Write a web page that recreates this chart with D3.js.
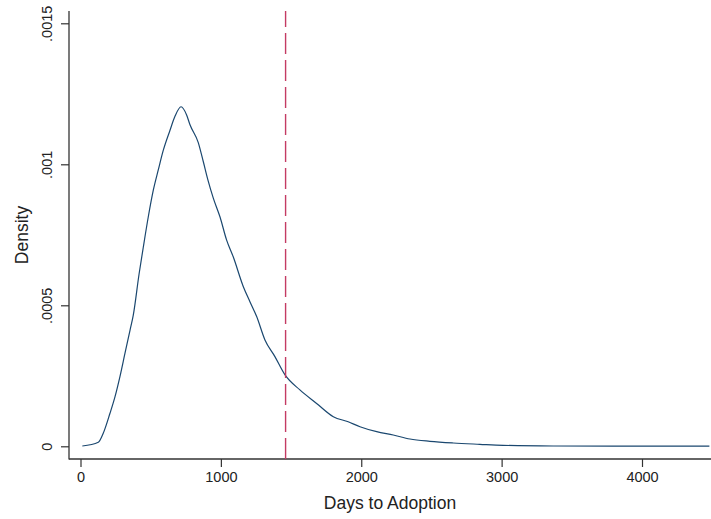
<!DOCTYPE html>
<html>
<head>
<meta charset="utf-8">
<script src="https://cdn.jsdelivr.net/npm/d3@7"></script>
<style>
  body { margin: 0; background: #fff; }
  text { font-family: "Liberation Sans", Arial, sans-serif; fill: #222; }
</style>
</head>
<body>
<svg width="711" height="519"></svg>
<script>
// density estimate (days, density)
var days = [13, 127, 162, 210, 246, 281, 317, 353, 376, 417, 447, 483, 519, 554, 590, 637, 673, 716,
    756, 780, 839, 875, 908, 946, 994, 1041, 1088, 1160, 1207, 1255, 1314, 1385, 1457, 1563, 1682,
    1801, 1907, 1991, 2110, 2228, 2347, 2489, 2655, 2845, 3011, 3368, 3800, 4480];
var density = [0.000001, 0.0000142, 0.0000461, 0.000117, 0.000176, 0.000247, 0.00033, 0.000412,
    0.000465, 0.00061, 0.000705, 0.000814, 0.000909, 0.00098, 0.00105, 0.00112, 0.00117, 0.001204,
    0.001175, 0.00114, 0.001077, 0.001009, 0.000944, 0.00088, 0.000813, 0.000731, 0.000672, 0.000566,
    0.000513, 0.00046, 0.000377, 0.000318, 0.000253, 0.0002, 0.000152, 0.000105, 0.000087, 0.0000695,
    0.0000518, 0.00004, 0.0000259, 0.0000177, 0.0000117, 0.0000071, 0.0000035, 0.000001, 0.0000005, 0.0000003];

var xTicks = [0, 1000, 2000, 3000, 4000];
var yTicks = [0, 0.0005, 0.001, 0.0015];
var yTickLabels = ["0", ".0005", ".001", ".0015"];
var cutoff = 1461; // 4 years

var svg = d3.select("svg");

var plotLeft = 69, plotRight = 711, plotTop = 11, plotBottom = 459;

var x = d3.scaleLinear().domain([0, 4000]).range([80.5, 642]);
var y = d3.scaleLinear().domain([0, 0.0015]).range([446.3, 23.3]);

var data = days.map(function(d, i) { return { x: d, y: density[i] }; });

// y axis
var yAxis = svg.append("g")
    .attr("transform", "translate(" + plotLeft + ",0)")
    .call(d3.axisLeft(y).tickValues(yTicks).tickSize(8)
        .tickFormat(function(d, i) { return yTickLabels[i]; }));
yAxis.select(".domain").remove();
yAxis.selectAll("line").attr("stroke", "#333").attr("stroke-width", 1.2);
yAxis.selectAll(".tick text")
    .attr("x", -22)
    .attr("y", 0)
    .attr("dy", "0.35em")
    .attr("transform", "rotate(-90,-22,0)")
    .attr("text-anchor", "middle")
    .style("font-size", "14.5px")
    .style("font-family", "Liberation Sans, Arial, sans-serif")
    .attr("fill", "#222");

// x axis
var xAxis = svg.append("g")
    .attr("transform", "translate(0," + plotBottom + ")")
    .call(d3.axisBottom(x).tickValues(xTicks).tickSize(8).tickPadding(5).tickFormat(d3.format("d")));
xAxis.select(".domain").remove();
xAxis.selectAll("line").attr("stroke", "#333").attr("stroke-width", 1.2);
xAxis.selectAll("text")
    .style("font-size", "14.5px")
    .style("font-family", "Liberation Sans, Arial, sans-serif")
    .attr("fill", "#222");

// axis lines
svg.append("line").attr("x1", plotLeft).attr("x2", plotLeft).attr("y1", plotTop).attr("y2", plotBottom + 0.6)
    .attr("stroke", "#333").attr("stroke-width", 1.3);
svg.append("line").attr("x1", plotLeft).attr("x2", plotRight).attr("y1", plotBottom).attr("y2", plotBottom)
    .attr("stroke", "#333").attr("stroke-width", 1.3);

// density curve
svg.append("path")
    .datum(data)
    .attr("fill", "none")
    .attr("stroke", "#1a476f")
    .attr("stroke-width", 1.2)
    .attr("d", d3.line()
        .x(function(d) { return x(d.x); })
        .y(function(d) { return y(d.y); })
        .curve(d3.curveMonotoneX));

// cutoff line
svg.append("line")
    .attr("x1", x(cutoff)).attr("x2", x(cutoff))
    .attr("y1", plotBottom).attr("y2", plotTop)
    .attr("stroke", "#c43b63")
    .attr("stroke-width", 1.4)
    .attr("stroke-dasharray", "21,6");

// titles
svg.append("text")
    .attr("transform", "translate(22," + ((plotTop + plotBottom) / 2) + ") rotate(-90)")
    .attr("text-anchor", "middle")
    .attr("dy", "0.35em")
    .style("font-size", "17.5px")
    .text("Density");

svg.append("text")
    .attr("x", (plotLeft + plotRight) / 2)
    .attr("y", 509)
    .attr("text-anchor", "middle")
    .style("font-size", "17.5px")
    .text("Days to Adoption");
</script>
</body>
</html>
